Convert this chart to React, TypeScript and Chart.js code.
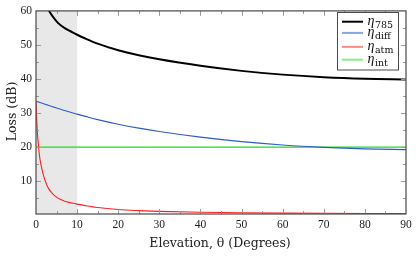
import React, { useEffect, useRef } from "react";
import { Chart, registerables } from "chart.js";

Chart.register(...registerables);

// Elevation angles (degrees)
const elevation = [0, 0.2, 0.4, 0.6, 0.8, 1, 1.5, 2, 2.5, 3, 4, 5, 6, 7, 8, 9, 10, 12, 15, 20, 25, 30, 40, 50, 60, 70, 80, 90];
// Total loss eta_785 (dB)
const loss785 = [86.7, 80.9, 76.6, 73.8, 71.2, 69.3, 66.2, 63.7, 61.8, 60.4, 58.5, 56.95, 55.8, 54.95, 54.25, 53.6, 53.0, 51.9, 50.4, 48.45, 47.0, 45.8, 43.9, 42.4, 41.3, 40.55, 40.1, 39.9];
// Diffraction loss (dB)
const lossDiff = [33.5, 33.42, 33.34, 33.26, 33.18, 33.1, 32.9, 32.7, 32.5, 32.3, 31.9, 31.5, 31.12, 30.75, 30.38, 30.03, 29.7, 29.05, 28.1, 26.75, 25.6, 24.6, 22.95, 21.65, 20.65, 19.95, 19.5, 19.3];
// Atmospheric loss (dB)
const lossAtm = [33.2, 27.5, 23.3, 20.5, 18.0, 16.2, 13.3, 11.0, 9.3, 8.0, 6.4, 5.35, 4.65, 4.17, 3.82, 3.54, 3.3, 2.86, 2.3, 1.72, 1.4, 1.18, 0.92, 0.76, 0.66, 0.6, 0.56, 0.55];
// Intrinsic loss (dB)
const intElevation = [0, 90];
const lossInt = [20, 20];

const xTicks = [0, 10, 20, 30, 40, 50, 60, 70, 80, 90];
const xMinorTicks = [5, 15, 25, 35, 45, 55, 65, 75, 85];
const yTicks = [10, 20, 30, 40, 50, 60];
const yMinorTicks = [5, 15, 25, 35, 45, 55];
const shadeRange = [0, 10];

const seriesLabels = [
  { main: "η", sub: "785", color: "#000000", legendColor: "#000000", width: 2 },
  { main: "η", sub: "diff", color: "#2c5ccc", legendColor: "#86a4e6", width: 2 },
  { main: "η", sub: "atm", color: "#ff1f1f", legendColor: "#ff8a8a", width: 2 },
  { main: "η", sub: "int", color: "#1fdc1f", legendColor: "#86ee86", width: 2 },
];

const toPts = (xs: number[], ys: number[]) => xs.map((x, i) => ({ x, y: ys[i] }));

const decorPlugin = {
  id: "decor",
  beforeDatasetsDraw(chart: any) {
    const { ctx, chartArea, scales } = chart;
    const x0 = scales.x.getPixelForValue(shadeRange[0]);
    const x1 = scales.x.getPixelForValue(shadeRange[1]);
    ctx.save();
    ctx.fillStyle = "#e8e8e8";
    ctx.fillRect(x0, chartArea.top, x1 - x0, chartArea.bottom - chartArea.top);
    ctx.restore();
  },
  afterDatasetsDraw(chart: any) {
    const { ctx, chartArea, scales } = chart;
    const { left, right, top, bottom } = chartArea;
    ctx.save();
    ctx.strokeStyle = "#9a9a9a";
    ctx.lineWidth = 1;
    const vt = (v: number, len: number) => {
      const px = Math.round(scales.x.getPixelForValue(v)) + 0.5;
      ctx.beginPath();
      ctx.moveTo(px, bottom);
      ctx.lineTo(px, bottom - len);
      ctx.moveTo(px, top);
      ctx.lineTo(px, top + len);
      ctx.stroke();
    };
    const ht = (v: number, len: number) => {
      const py = Math.round(scales.y.getPixelForValue(v)) + 0.5;
      ctx.beginPath();
      ctx.moveTo(left, py);
      ctx.lineTo(left + len, py);
      ctx.moveTo(right, py);
      ctx.lineTo(right - len, py);
      ctx.stroke();
    };
    xTicks.slice(1, -1).forEach((v) => vt(v, 5));
    xMinorTicks.forEach((v) => vt(v, 3));
    yTicks.slice(0, -1).forEach((v) => ht(v, 5));
    yMinorTicks.forEach((v) => ht(v, 3));
    ctx.strokeStyle = "#4a4a4a";
    ctx.lineWidth = 1.2;
    ctx.strokeRect(left, top, right - left, bottom - top);
    ctx.restore();
  },
  afterDraw(chart: any) {
    const { ctx, chartArea } = chart;
    ctx.save();
    ctx.fillStyle = "#222";
    ctx.font = "12.5px DejaVu Serif";
    ctx.textAlign = "center";
    ctx.textBaseline = "alphabetic";
    ctx.fillText("Elevation, θ (Degrees)", (chartArea.left + chartArea.right) / 2 - 1, 246.5);
    ctx.save();
    ctx.translate(15.5, 111.5);
    ctx.rotate(-Math.PI / 2);
    ctx.fillText("Loss (dB)", 0, 0);
    ctx.restore();
    const bx = 337.5, by = 12.5, bw = 61, bh = 57.5;
    ctx.fillStyle = "#ffffff";
    ctx.fillRect(bx, by, bw, bh);
    ctx.strokeStyle = "#4a4a4a";
    ctx.lineWidth = 1;
    ctx.strokeRect(bx, by, bw, bh);
    const rows = [21.7, 32.9, 46.9, 59.7];
    seriesLabels.forEach((s, i) => {
      const y = rows[i];
      ctx.strokeStyle = s.legendColor;
      ctx.lineWidth = s.width;
      ctx.beginPath();
      ctx.moveTo(342, y);
      ctx.lineTo(363, y);
      ctx.stroke();
      ctx.fillStyle = "#111";
      ctx.textAlign = "left";
      ctx.font = "italic 14px Liberation Serif";
      ctx.fillText(s.main, 367.5, y + 3.5);
      const w = ctx.measureText(s.main).width;
      ctx.font = "9.5px DejaVu Serif";
      ctx.fillText(s.sub, 367.5 + w + 0.5, y + 6);
    });
    ctx.restore();
  },
};

export default function App() {
  const ref = useRef<HTMLCanvasElement | null>(null);
  useEffect(() => {
    let chart: any = null;
    let cancelled = false;
    const fontSpecs = ["11.5px Liberation Serif", "italic 14px Liberation Serif", "12.5px DejaVu Serif"];
    const ready = (document as any).fonts
      ? Promise.all(fontSpecs.map((f) => (document as any).fonts.load(f))).catch(() => null)
      : Promise.resolve(null);
    ready.then(() => {
      if (cancelled || !ref.current) return;
      const tickFont = { family: "Liberation Serif", size: 11.5 };
      chart = new Chart(ref.current, {
        type: "line",
        data: {
          datasets: [
            { data: toPts(elevation, loss785), borderColor: seriesLabels[0].color, borderWidth: 2 },
            { data: toPts(elevation, lossDiff), borderColor: seriesLabels[1].color, borderWidth: 1.1 },
            { data: toPts(elevation, lossAtm), borderColor: seriesLabels[2].color, borderWidth: 1.1 },
            { data: toPts(intElevation, lossInt), borderColor: seriesLabels[3].color, borderWidth: 1.3 },
          ],
        },
        options: {
          animation: false,
          responsive: false,
          maintainAspectRatio: false,
          layout: { padding: { left: 0, right: 10, top: 8, bottom: 0 } },
          plugins: { legend: { display: false }, tooltip: { enabled: false } },
          elements: { point: { radius: 0 }, line: { cubicInterpolationMode: "monotone" } },
          scales: {
            x: {
              type: "linear",
              min: 0,
              max: 90,
              afterBuildTicks: (s: any) => {
                s.ticks = xTicks.map((v) => ({ value: v }));
              },
              afterFit: (s: any) => {
                s.height = 42;
              },
              grid: { display: false, drawTicks: false },
              border: { display: false },
              ticks: { padding: 4, font: tickFont, color: "#222", maxRotation: 0, autoSkip: false },
            },
            y: {
              type: "linear",
              min: 0.4,
              max: 60,
              afterBuildTicks: (s: any) => {
                s.ticks = yTicks.map((v) => ({ value: v }));
              },
              afterFit: (s: any) => {
                s.width = 36;
              },
              grid: { display: false, drawTicks: false },
              border: { display: false },
              ticks: { padding: 4, font: tickFont, color: "#222", autoSkip: false },
            },
          },
        } as any,
        plugins: [decorPlugin],
      });
    });
    return () => {
      cancelled = true;
      if (chart) chart.destroy();
    };
  }, []);
  return (
    <div style={{ position: "fixed", left: 0, top: 0, width: 416, height: 256, background: "#fff" }}>
      <canvas ref={ref} width={416} height={256} />
    </div>
  );
}
